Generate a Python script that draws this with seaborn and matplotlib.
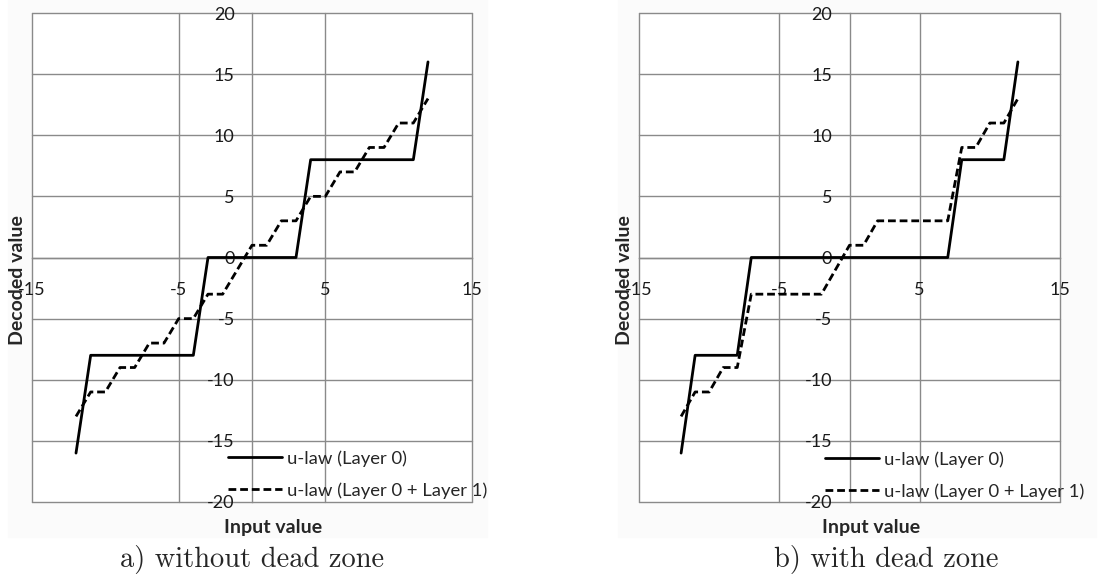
import matplotlib
matplotlib.use("Agg")
import matplotlib.pyplot as plt
import seaborn as sns
from matplotlib.ticker import MultipleLocator, FixedLocator
from matplotlib.patches import Rectangle

# ---------------- data ----------------
x_input = list(range(-12, 13))
a_layer0 = [-16, -8, -8, -8, -8, -8, -8, -8, -8, 0, 0, 0, 0, 0, 0, 0,
            8, 8, 8, 8, 8, 8, 8, 8, 16]
a_layer01 = [-13, -11, -11, -9, -9, -7, -7, -5, -5, -3, -3, -1, 1, 1,
             3, 3, 5, 5, 7, 7, 9, 9, 11, 11, 13]
b_layer0 = [-16, -8, -8, -8, -8, 0, 0, 0, 0, 0, 0, 0, 0, 0, 0, 0, 0, 0, 0,
            0, 8, 8, 8, 8, 16]
b_layer01 = [-13, -11, -11, -9, -9, -3, -3, -3, -3, -3, -3, -1, 1, 1,
             3, 3, 3, 3, 3, 3, 9, 9, 11, 11, 13]

series_labels = ["u-law (Layer 0)", "u-law (Layer 0 + Layer 1)"]
x_tick_values = [-15, -5, 5, 15]
captions = ["a) without dead zone", "b) with dead zone"]
x_title = "Input value"
y_title = "Decoded value"

# ---------------- style ----------------
sns.set_style("white")
plt.rcParams["font.family"] = ["Lato", "DejaVu Sans"]
plt.rcParams["axes.unicode_minus"] = False

W, H = 1099, 578
GRAY = "#8a8a8a"
fig = plt.figure(figsize=(W / 100, H / 100), dpi=100)

# faint chart-area backgrounds
fig.patches.append(Rectangle((8 / W, 1 - 537 / H), 479 / W, 537 / H,
                             transform=fig.transFigure, color="#fbfbfb", zorder=-10))
fig.patches.append(Rectangle((618 / W, 1 - 537 / H), 478 / W, 537 / H,
                             transform=fig.transFigure, color="#fbfbfb", zorder=-10))

panels = [
    dict(rect=[32 / W, 1 - 502 / H, 440 / W, 489 / H], y0=a_layer0, y1=a_layer01,
         leg=(228 / W, 1 - 450 / H), ylab=(18 / W, 1 - 280 / H),
         xlab=(273 / W, 1 - 527 / H), cap=(252 / W, 1 - 560 / H), caption=captions[0]),
    dict(rect=[639 / W, 1 - 502 / H, 421 / W, 489 / H], y0=b_layer0, y1=b_layer01,
         leg=(825 / W, 1 - 451 / H), ylab=(625 / W, 1 - 280 / H),
         xlab=(871 / W, 1 - 527 / H), cap=(886 / W, 1 - 560 / H), caption=captions[1]),
]

for p in panels:
    ax = fig.add_axes(p["rect"])
    ax.set_facecolor("white")
    sns.lineplot(x=x_input, y=p["y0"], ax=ax, color="black", linewidth=2.0,
                 label=series_labels[0], zorder=5)
    sns.lineplot(x=x_input, y=p["y1"], ax=ax, color="black", linewidth=2.0,
                 linestyle=(0, (2.8, 1.4)), label=series_labels[1], zorder=5)

    ax.set_xlim(-15, 15)
    ax.set_ylim(-20, 20)
    ax.set_xlabel("")
    ax.set_ylabel("")

    ax.spines["left"].set_position(("data", 0))
    ax.spines["bottom"].set_position(("data", 0))
    for s in ["top", "right"]:
        ax.spines[s].set_visible(False)
    for s in ["left", "bottom"]:
        ax.spines[s].set_color(GRAY)
        ax.spines[s].set_linewidth(1.0)

    ax.xaxis.set_major_locator(FixedLocator(x_tick_values))
    ax.xaxis.set_minor_locator(MultipleLocator(2, offset=1))
    ax.yaxis.set_major_locator(MultipleLocator(5))
    ax.yaxis.set_minor_locator(MultipleLocator(1))

    ax.grid(which="major", color=GRAY, linewidth=1.0)
    for gl in ax.get_xgridlines() + ax.get_ygridlines():
        gl.set_clip_on(False)

    ax.tick_params(which="both", direction="inout", color=GRAY, width=1.0,
                   length=7, labelsize=13, labelcolor="#1a1a1a")
    ax.tick_params(axis="x", which="major", pad=14)
    ax.tick_params(axis="y", which="major", pad=9)

    ax.legend(loc="upper left", bbox_to_anchor=p["leg"], bbox_transform=fig.transFigure,
              frameon=False, borderpad=0, borderaxespad=0, handlelength=2.9,
              handletextpad=0.3, labelspacing=0.85, fontsize=13.3)

    fig.text(*p["ylab"], y_title, rotation=90, ha="center", va="center",
             fontsize=14, fontweight="bold")
    fig.text(*p["xlab"], x_title, ha="center", va="center",
             fontsize=14, fontweight="bold")
    fig.text(*p["cap"], p["caption"], ha="center", va="center",
             fontsize=20.5, family="cmr10")

fig.savefig("out.png", dpi=100)
